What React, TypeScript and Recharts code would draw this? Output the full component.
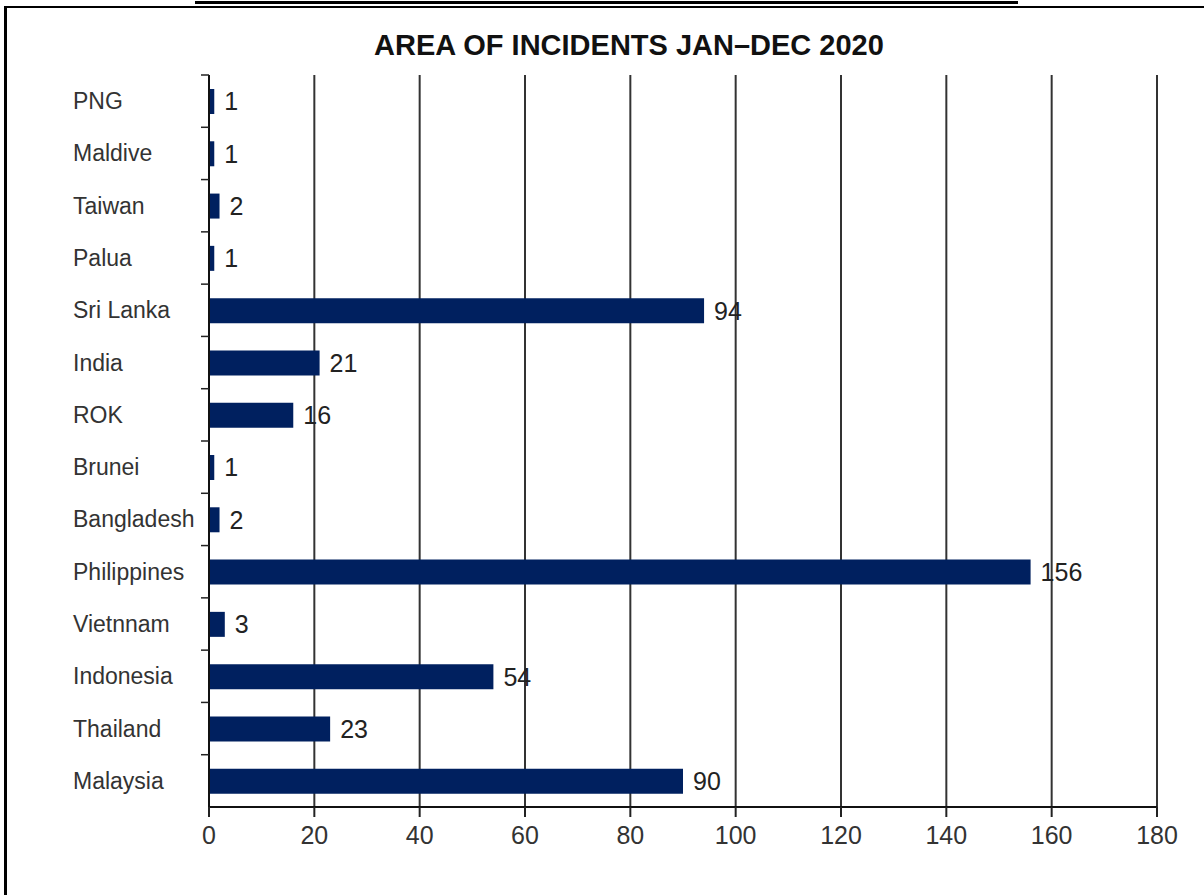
import { BarChart, Bar, XAxis, YAxis, CartesianGrid, LabelList } from 'recharts';

const countries = [
  'PNG',
  'Maldive',
  'Taiwan',
  'Palua',
  'Sri Lanka',
  'India',
  'ROK',
  'Brunei',
  'Bangladesh',
  'Philippines',
  'Vietnnam',
  'Indonesia',
  'Thailand',
  'Malaysia',
];

const incidents = [1, 1, 2, 1, 94, 21, 16, 1, 2, 156, 3, 54, 23, 90];

const xTicks = [0, 20, 40, 60, 80, 100, 120, 140, 160, 180];

const data = countries.map((name, i) => ({ name, value: incidents[i] }));

const FONT = '"Liberation Sans", Arial, sans-serif';
const BAR_COLOR = '#00205f';

const CHART_W = 1204;
const CHART_H = 895;
const MARGIN = { top: 75, right: 47, bottom: 28, left: 9 };
const Y_AXIS_W = 200;
const X_AXIS_H = 60;
const HALF_BAND =
  (CHART_H - MARGIN.top - MARGIN.bottom - X_AXIS_H) / countries.length / 2;

function CountryTick(props: any) {
  const { y, payload } = props;
  const axisX = MARGIN.left + Y_AXIS_W;
  const half = payload.offset || HALF_BAND;
  return (
    <g>
      <text
        x={73}
        y={y}
        dy="0.35em"
        textAnchor="start"
        fontSize={23}
        fontFamily={FONT}
        fill="#333"
      >
        {payload.value}
      </text>
      <line x1={axisX - 8} x2={axisX} y1={y - half} y2={y - half} stroke="#222" strokeWidth={1.5} />
    </g>
  );
}

export default function App() {
  return (
    <div
      style={{
        position: 'absolute',
        left: 0,
        top: 0,
        width: CHART_W,
        height: CHART_H,
        background: '#fff',
        overflow: 'hidden',
        fontFamily: FONT,
      }}
    >
      {/* caption underline and frame, cut by the page edge */}
      <div style={{ position: 'absolute', left: 195, top: 1, width: 823, height: 3, background: '#000' }} />
      <div style={{ position: 'absolute', left: 4, top: 6, width: 1300, height: 2, background: '#000' }} />
      <div style={{ position: 'absolute', left: 4, top: 6, width: 3, height: 1000, background: '#000' }} />

      <div
        style={{
          position: 'absolute',
          left: 0,
          top: 31,
          width: 1258,
          textAlign: 'center',
          fontSize: 29,
          lineHeight: '29px',
          fontWeight: 'bold',
          color: '#111',
        }}
      >
        AREA OF INCIDENTS JAN–DEC 2020
      </div>

      <div style={{ position: 'absolute', left: 0, top: 0 }}>
        <BarChart width={CHART_W} height={CHART_H} data={data} layout="vertical" margin={MARGIN}>
          <CartesianGrid horizontal={false} stroke="#333" strokeWidth={2} />
          <XAxis
            type="number"
            domain={[0, 180]}
            ticks={xTicks}
            interval={0}
            height={X_AXIS_H}
            tickSize={10}
            tickMargin={9}
            axisLine={{ stroke: '#111', strokeWidth: 2 }}
            tickLine={{ stroke: '#222', strokeWidth: 2 }}
            tick={{ fill: '#333', fontSize: 25, fontFamily: FONT }}
          />
          <YAxis
            type="category"
            dataKey="name"
            width={Y_AXIS_W}
            interval={0}
            tickLine={false}
            axisLine={{ stroke: '#111', strokeWidth: 2 }}
            tick={<CountryTick />}
          />
          <Bar dataKey="value" fill={BAR_COLOR} barSize={25} isAnimationActive={false}>
            <LabelList
              dataKey="value"
              position="right"
              offset={10}
              fill="#222"
              fontSize={25}
              fontFamily={FONT}
            />
          </Bar>
        </BarChart>
      </div>
    </div>
  );
}
